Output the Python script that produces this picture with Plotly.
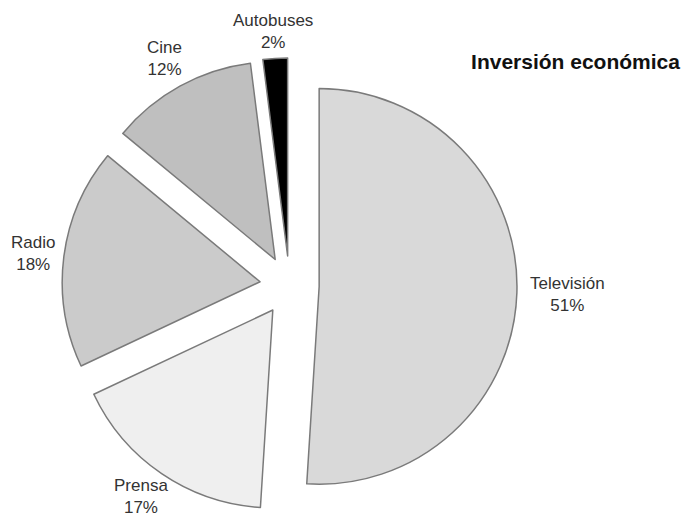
import math
import plotly.graph_objects as go

categories = ["Televisión", "Prensa", "Radio", "Cine", "Autobuses"]
values = [51, 17, 18, 12, 2]
colors = ["#d9d9d9", "#efefef", "#cbcbcb", "#bfbfbf", "#000000"]
pulls = [0.15, 0.15, 0.15, 0.15, 0.15]

FONT = "Liberation Sans, Arial, Helvetica, sans-serif"
FS = 17
W, H = 682, 522
ML, MR, MT, MB = 62, 165, 58, 9
PW, PH = W - ML - MR, H - MT - MB

fig = go.Figure(go.Pie(
    labels=categories,
    values=values,
    sort=False,
    direction="clockwise",
    rotation=0,
    pull=pulls,
    automargin=False,
    marker=dict(colors=colors, line=dict(color="#7a7a7a", width=1.5)),
    textinfo="none",
    showlegend=False,
    hoverinfo="label+percent",
))

# label placement derived from slice mid-angles
radius = min(PW, PH) / (2 + 2 * max(pulls))
total = sum(values)
cum = 0
annotations = []
half_box = 1.3 * FS + 3
for lab, v, p in zip(categories, values, pulls):
    mid = (cum + v / 2) / total * 2 * math.pi
    cum += v
    s, c = math.sin(mid), math.cos(mid)
    txt = f"{lab}<br>{v}%"
    hw = max(len(lab), len(f"{v}%")) * 0.5 * FS / 2
    hh = 17
    d = radius * (1 + p) + 8 + hw * abs(s) + hh * abs(c)
    y_px = MT + PH / 2 - d * c
    y_px = min(max(y_px, half_box), H - half_box)  # keep label inside the page
    annotations.append(dict(
        x=0.5 + d * s / PW, y=1 - (y_px - MT) / PH,
        xref="paper", yref="paper", xanchor="center", yanchor="middle",
        text=txt, showarrow=False, align="center",
        font=dict(family=FONT, size=FS, color="#333333"),
    ))

fig.update_layout(
    width=W,
    height=H,
    margin=dict(l=ML, r=MR, t=MT, b=MB, autoexpand=False),
    paper_bgcolor="white",
    plot_bgcolor="white",
    annotations=annotations,
    title=dict(
        text="<b>Inversión económica</b>",
        x=0.997, xanchor="right",
        y=1 - 62 / 522, yanchor="middle", yref="container",
        font=dict(family=FONT, size=21, color="#111111"),
    ),
)

fig.write_html("out.html")
